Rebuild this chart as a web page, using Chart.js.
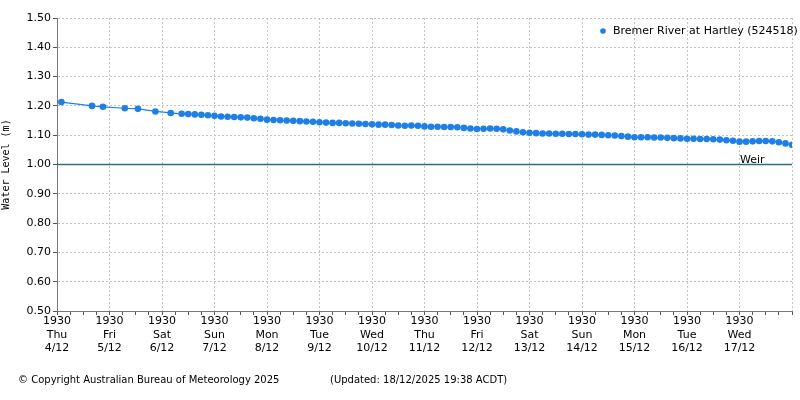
<!DOCTYPE html>
<html><head><meta charset="utf-8">
<script src="https://cdn.jsdelivr.net/npm/chart.js@4"></script>
<style>body{margin:0;background:#fff}#c{display:block}</style></head>
<body><div style="width:800px;height:400px"><canvas id="c"></canvas></div>
<script>
const seriesName = 'Bremer River at Hartley (524518)';
const dayLabels = [['1930','Thu','4/12'],['1930','Fri','5/12'],['1930','Sat','6/12'],['1930','Sun','7/12'],['1930','Mon','8/12'],['1930','Tue','9/12'],['1930','Wed','10/12'],['1930','Thu','11/12'],['1930','Fri','12/12'],['1930','Sat','13/12'],['1930','Sun','14/12'],['1930','Mon','15/12'],['1930','Tue','16/12'],['1930','Wed','17/12']];
// hours since Thu 4/12 19:30
const earlyHours = [2,16,21,31,37,45,52];
const earlyLevels = [1.213,1.200,1.197,1.192,1.190,1.181,1.176];
const denseLevels = [
1.173,1.172,1.171,1.170,1.168,1.166,
1.164,1.163,1.162,1.161,1.160,1.158,1.156,1.153,
1.152,1.151,1.150,1.149,1.148,1.147,1.146,1.144,
1.143,1.142,1.142,1.141,1.140,1.139,1.138,1.137,
1.136,1.136,1.135,1.133,1.132,1.133,1.132,1.130,
1.129,1.129,1.128,1.128,1.127,1.125,1.123,1.121,
1.122,1.123,1.122,1.120,1.116,1.113,1.110,1.108,
1.107,1.106,1.106,1.105,1.105,1.104,1.104,1.103,
1.102,1.102,1.101,1.100,1.099,1.097,1.095,1.093,
1.093,1.093,1.092,1.092,1.091,1.090,1.089,1.088,
1.088,1.087,1.087,1.086,1.085,1.083,1.081,1.078,
1.078,1.079,1.080,1.080,1.079,1.076,1.072,1.067];
const denseStartHour = 57, denseStep = 3;
const weirLevel = 1.00;

const pts = earlyHours.map((h,i)=>({x:h,y:earlyLevels[i]}));
denseLevels.forEach((v,i)=>pts.push({x:denseStartHour+i*denseStep,y:v}));
const F = 'DejaVu Sans';
const blue = '#1e7fe6';

const extras = {
  id:'extras',
  afterDraw(ch){
    const c = ch.ctx, a = ch.chartArea, y = ch.scales.y;
    c.save();
    const wy = y.getPixelForValue(weirLevel);
    c.strokeStyle='#2f6f7a'; c.lineWidth=1.5;
    c.beginPath(); c.moveTo(a.left,wy); c.lineTo(a.right,wy); c.stroke();
    c.fillStyle='#000'; c.font='11px '+F; c.textBaseline='bottom'; c.textAlign='left';
    c.fillText('Weir',740,wy+1);
    c.textBaseline='middle';
    c.fillStyle=blue; c.beginPath(); c.arc(603,31,2.8,0,Math.PI*2); c.fill();
    c.fillStyle='#000'; c.fillText(seriesName,613,31);
    c.font='10px '+F;
    c.fillText('\u00a9 Copyright Australian Bureau of Meteorology 2025',18,380);
    c.fillText('(Updated: 18/12/2025 19:38 ACDT)',330,380);
    c.restore();
  }
};

new Chart(document.getElementById('c'),{
  type:'line',
  data:{datasets:[{data:pts,borderColor:blue,backgroundColor:blue,borderWidth:1.2,pointRadius:3.3,pointBorderWidth:0,tension:0}]},
  options:{
    animation:false,responsive:true,maintainAspectRatio:false,
    layout:{padding:{left:0,right:8,top:18,bottom:34}},
    plugins:{legend:{display:false},tooltip:{enabled:false}},
    scales:{
      x:{type:'linear',min:0,max:336,
        afterFit(s){s.height=55;},
        afterBuildTicks(s){const t=[];for(let h=0;h<=336;h+=6)t.push({value:h});s.ticks=t;},
        border:{color:'#777',width:1,dash:[2,2]},
        grid:{color:c=>(c.tick&&c.tick.value%24===0&&c.tick.value>0)?'#c4c4c4':'rgba(0,0,0,0)',
          tickColor:'#555',tickLength:4,tickBorderDash:[]},
        ticks:{autoSkip:false,maxRotation:0,color:'#000',font:{family:F,size:11},padding:0,
          callback:v=>{if(v%24!==0)return '';const i=v/24;return dayLabels[i]||'';}}
      },
      y:{min:0.5,max:1.5,
        afterFit(s){s.width=57;},
        border:{color:'#777',width:1,dash:[2,2]},
        grid:{color:'#c4c4c4',tickColor:'#555',tickLength:4,tickBorderDash:[]},
        ticks:{stepSize:0.1,color:'#000',font:{family:F,size:11},padding:2,callback:v=>v.toFixed(2)},
        title:{display:true,text:'Water Level (m)',font:{family:'DejaVu Sans Mono',size:10},color:'#000',padding:0}
      }
    }
  },
  plugins:[extras]
});
</script></body></html>
